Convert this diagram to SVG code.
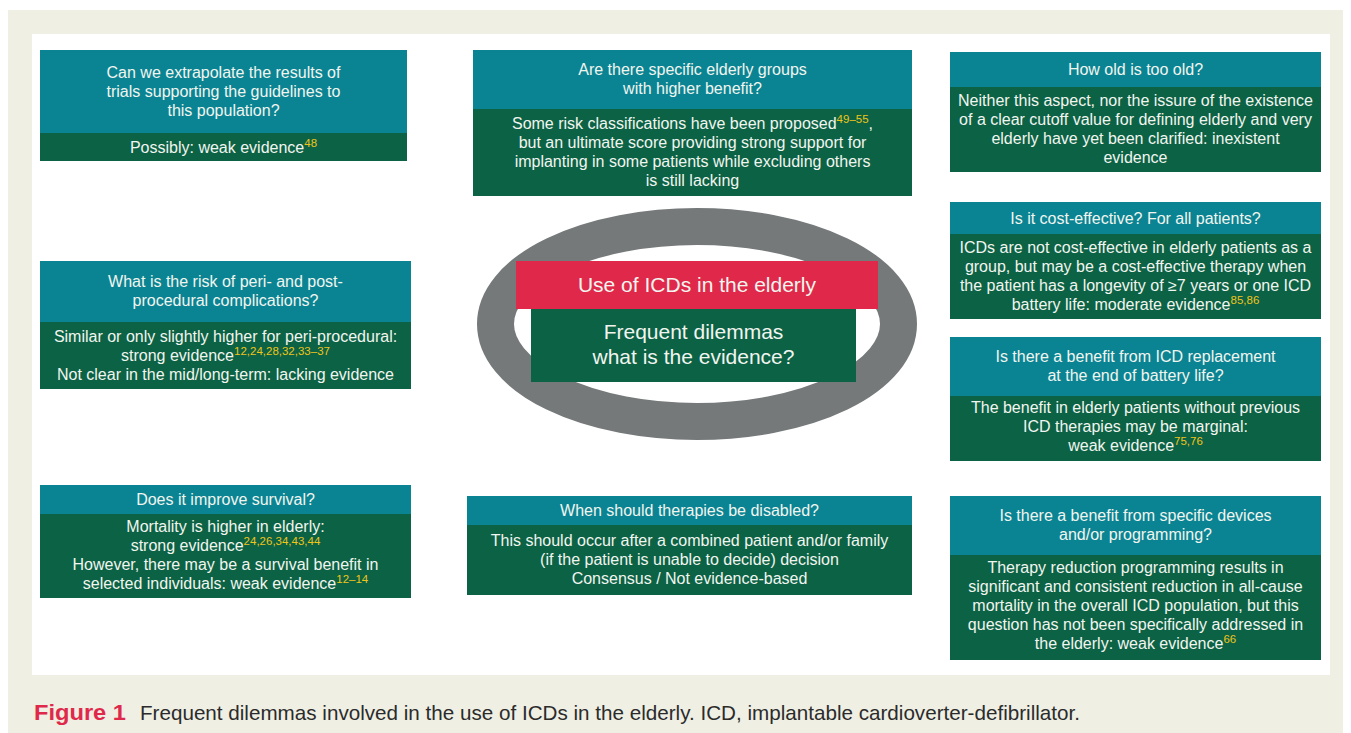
<svg xmlns="http://www.w3.org/2000/svg" width="1351" height="733" viewBox="0 0 1351 733">
<style>
.q{fill:#0A8493}
.a{fill:#0B6245}
.t{font-family:"Liberation Sans",Arial,sans-serif;font-size:16px;fill:#F2F5EF;text-anchor:middle}
.s{font-size:11.5px;fill:#F0C419}
.c{font-family:"Liberation Sans",Arial,sans-serif;font-size:21px;fill:#F2F5EF;text-anchor:middle}
</style>
<rect x="8" y="10" width="1335" height="723" fill="#EFEFE4"/>
<rect x="32" y="34" width="1298" height="641" fill="#FFFFFF"/>

<g id="center">
<ellipse cx="697" cy="324" rx="201.5" ry="97.5" fill="none" stroke="#75797A" stroke-width="37"/>
<rect x="516" y="261" width="362" height="48" fill="#E0294A"/>
<rect x="531" y="309" width="325" height="73" class="a"/>
<text class="c" x="697" y="292">Use of ICDs in the elderly</text>
<text class="c" x="693.5" y="339">Frequent dilemmas</text>
<text class="c" x="693.5" y="364">what is the evidence?</text>
</g>

<g id="connectors"></g>

<g id="n1">
<rect x="40" y="50" width="367" height="83" class="q"/>
<rect x="40" y="133" width="367" height="28" class="a"/>
<text class="t" x="223.5" y="78">Can we extrapolate the results of</text>
<text class="t" x="223.5" y="97">trials supporting the guidelines to</text>
<text class="t" x="223.5" y="116">this population?</text>
<text class="t" x="223.5" y="153">Possibly: weak evidence<tspan class="s" dy="-6">48</tspan></text>
</g>

<g id="n2">
<rect x="473" y="50" width="439" height="59" class="q"/>
<rect x="473" y="109" width="439" height="87" class="a"/>
<text class="t" x="692.5" y="75">Are there specific elderly groups</text>
<text class="t" x="692.5" y="94">with higher benefit?</text>
<text class="t" x="692.5" y="129">Some risk classifications have been proposed<tspan class="s" dy="-6">49–55</tspan><tspan dy="6">,</tspan></text>
<text class="t" x="692.5" y="148">but an ultimate score providing strong support for</text>
<text class="t" x="692.5" y="167">implanting in some patients while excluding others</text>
<text class="t" x="692.5" y="186">is still lacking</text>
</g>

<g id="n3">
<rect x="950" y="52" width="371" height="35" class="q"/>
<rect x="950" y="87" width="371" height="85" class="a"/>
<text class="t" x="1135.5" y="75">How old is too old?</text>
<text class="t" x="1135.5" y="106">Neither this aspect, nor the issure of the existence</text>
<text class="t" x="1135.5" y="125">of a clear cutoff value for defining elderly and very</text>
<text class="t" x="1135.5" y="144">elderly have yet been clarified: inexistent</text>
<text class="t" x="1135.5" y="163">evidence</text>
</g>

<g id="n4">
<rect x="950" y="202" width="371" height="32" class="q"/>
<rect x="950" y="234" width="371" height="85" class="a"/>
<text class="t" x="1135.5" y="224">Is it cost-effective? For all patients?</text>
<text class="t" x="1135.5" y="253">ICDs are not cost-effective in elderly patients as a</text>
<text class="t" x="1135.5" y="272">group, but may be a cost-effective therapy when</text>
<text class="t" x="1135.5" y="291">the patient has a longevity of ≥7 years or one ICD</text>
<text class="t" x="1135.5" y="310">battery life: moderate evidence<tspan class="s" dy="-6">85,86</tspan></text>
</g>

<g id="n5">
<rect x="950" y="337" width="371" height="59" class="q"/>
<rect x="950" y="396" width="371" height="65" class="a"/>
<text class="t" x="1135.5" y="362">Is there a benefit from ICD replacement</text>
<text class="t" x="1135.5" y="381">at the end of battery life?</text>
<text class="t" x="1135.5" y="413">The benefit in elderly patients without previous</text>
<text class="t" x="1135.5" y="432">ICD therapies may be marginal:</text>
<text class="t" x="1135.5" y="451">weak evidence<tspan class="s" dy="-6">75,76</tspan></text>
</g>

<g id="n6">
<rect x="950" y="496" width="371" height="59" class="q"/>
<rect x="950" y="555" width="371" height="105" class="a"/>
<text class="t" x="1135.5" y="521">Is there a benefit from specific devices</text>
<text class="t" x="1135.5" y="540">and/or programming?</text>
<text class="t" x="1135.5" y="573">Therapy reduction programming results in</text>
<text class="t" x="1135.5" y="592">significant and consistent reduction in all-cause</text>
<text class="t" x="1135.5" y="611">mortality in the overall ICD population, but this</text>
<text class="t" x="1135.5" y="630">question has not been specifically addressed in</text>
<text class="t" x="1135.5" y="649">the elderly: weak evidence<tspan class="s" dy="-6">66</tspan></text>
</g>

<g id="n7">
<rect x="40" y="261" width="371" height="61" class="q"/>
<rect x="40" y="322" width="371" height="67" class="a"/>
<text class="t" x="225.5" y="287">What is the risk of peri- and post-</text>
<text class="t" x="225.5" y="306">procedural complications?</text>
<text class="t" x="225.5" y="342">Similar or only slightly higher for peri-procedural:</text>
<text class="t" x="225.5" y="361">strong evidence<tspan class="s" dy="-6">12,24,28,32,33–37</tspan></text>
<text class="t" x="225.5" y="380">Not clear in the mid/long-term: lacking evidence</text>
</g>

<g id="n8">
<rect x="40" y="485" width="371" height="29" class="q"/>
<rect x="40" y="514" width="371" height="84" class="a"/>
<text class="t" x="225.5" y="505">Does it improve survival?</text>
<text class="t" x="225.5" y="532">Mortality is higher in elderly:</text>
<text class="t" x="225.5" y="551">strong evidence<tspan class="s" dy="-6">24,26,34,43,44</tspan></text>
<text class="t" x="225.5" y="570">However, there may be a survival benefit in</text>
<text class="t" x="225.5" y="589">selected individuals: weak evidence<tspan class="s" dy="-6">12–14</tspan></text>
</g>

<g id="n9">
<rect x="467" y="496" width="445" height="29" class="q"/>
<rect x="467" y="525" width="445" height="70" class="a"/>
<text class="t" x="689.5" y="516">When should therapies be disabled?</text>
<text class="t" x="689.5" y="546">This should occur after a combined patient and/or family</text>
<text class="t" x="689.5" y="565">(if the patient is unable to decide) decision</text>
<text class="t" x="689.5" y="584">Consensus / Not evidence-based</text>
</g>

<g id="caption">
<text x="34" y="720" font-family="'Liberation Sans',Arial,sans-serif" font-size="22" font-weight="bold" fill="#E0294A" textLength="92" lengthAdjust="spacingAndGlyphs">Figure 1</text>
<text x="140" y="720" font-family="'Liberation Sans',Arial,sans-serif" font-size="21" fill="#2B2B2B" textLength="940" lengthAdjust="spacingAndGlyphs">Frequent dilemmas involved in the use of ICDs in the elderly. ICD, implantable cardioverter-defibrillator.</text>
</g>
</svg>
